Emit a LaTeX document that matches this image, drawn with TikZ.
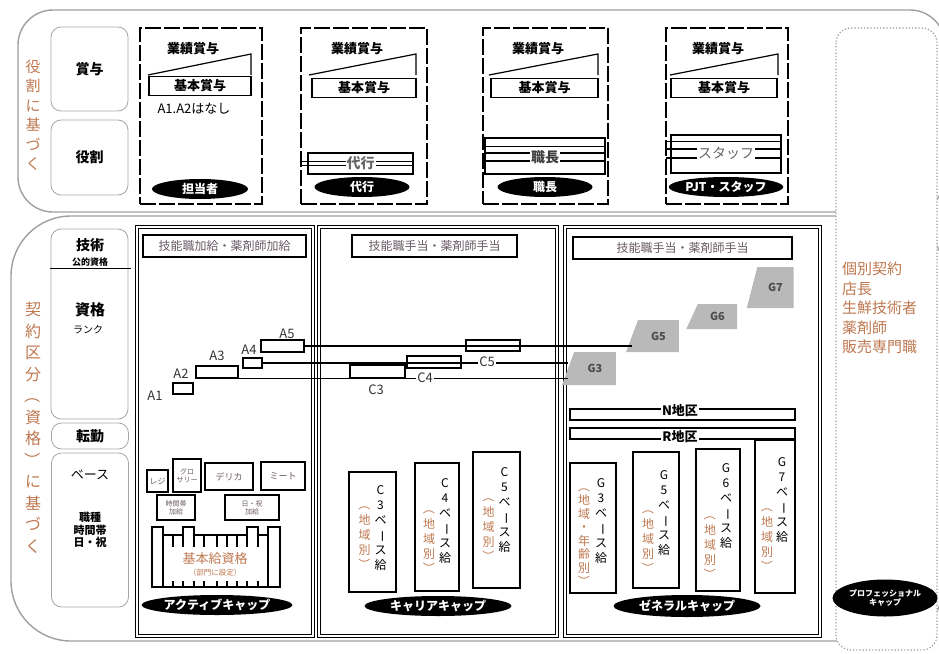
\documentclass[tikz,border=0pt]{standalone}
\usepackage{fontspec}
\setmainfont{Noto Sans CJK JP}
\usetikzlibrary{shapes.geometric, calc}

\definecolor{jcol}{RGB}{190,120,80}
\definecolor{titlecol}{RGB}{105,90,100}
\definecolor{gfill}{RGB}{185,185,185}

% vertical writing marks
\newcommand{\vlparen}{\rotatebox[origin=c]{-90}{（}}
\newcommand{\vrparen}{\rotatebox[origin=c]{-90}{）}}
\newcommand{\vbar}{\rotatebox[origin=c]{-90}{ー}}

\begin{document}
\begin{tikzpicture}[
    x=1pt, y=-1pt,
    every node/.style={font=\fontsize{12}{14}\selectfont, inner sep=1pt},
    outerline/.style={draw=gray!75, line width=1.4pt},
    dotbox/.style={draw=gray!80, line width=1.2pt, dotted, fill=white, rounded corners=15pt},
    headbox/.style={rectangle, draw=gray!70, thick, rounded corners=10pt, minimum width=77, align=center, font=\bfseries\fontsize{14}{16}\selectfont},
    dashbox/.style={rectangle, draw, line width=1.6pt, dash pattern=on 16pt off 3pt, minimum height=176},
    basebox/.style={rectangle, draw, line width=1.4pt, minimum height=19, font=\bfseries\fontsize{13}{15}\selectfont},
    perflabel/.style={font=\bfseries\fontsize{13}{15}\selectfont},
    rolebox/.style={rectangle, draw, line width=1.4pt},
    rolelabel/.style={fill=white, text=black!60, font=\bfseries\fontsize{14}{16}\selectfont},
    capoval/.style={ellipse, fill=black, text=white, minimum height=20, inner sep=0pt, font=\bfseries\fontsize{12}{14}\selectfont},
    colbox/.style={rectangle, draw, double, double distance=1.5pt, line width=0.9pt, minimum height=409},
    titlebox/.style={rectangle, draw, line width=1.4pt, minimum height=22, text=titlecol, font=\fontsize{12}{14}\selectfont},
    smallbox/.style={rectangle, draw, line width=1.4pt, align=center, text=titlecol, font=\fontsize{8}{9}\selectfont},
    stepbox/.style={rectangle, draw, line width=1.2pt},
    steplabel/.style={font=\fontsize{13}{15}\selectfont, text=black!80},
    stepline/.style={line width=1.2pt},
    gradebox/.style={trapezium, trapezium left angle=65, trapezium right angle=90, trapezium stretches=true, fill=gfill, font=\bfseries\fontsize{11}{13}\selectfont, text=black!70},
    paybox/.style={rectangle, draw, line width=1.4pt},
    vcol/.style={anchor=north, align=center, font=\fontsize{12}{15}\selectfont},
    sidetext/.style={align=center, text=jcol},
    areabar/.style={rectangle, draw, line width=1.4pt, minimum width=225, minimum height=11},
    arealabel/.style={fill=white, font=\bfseries\fontsize{13}{15}\selectfont}
]
\useasboundingbox (0,0) rectangle (939,653);

% ============ ROLE BASED (TOP) ============
\draw[outerline, rounded corners=35pt] (18,10) rectangle (945,212);
\node[sidetext, font=\fontsize{15}{19.5}\selectfont] (rolebased) at (33,115) {役\\割\\に\\基\\づ\\く};

% row heads
\node[headbox, minimum height=84] (bonushead) at (89.5,69) {賞与};
\node[headbox, minimum height=75] (rolehead) at (89.5,157.5) {役割};

% role columns
\node[dashbox, minimum width=122] (tantoucol) at (201,116) {};
\node[dashbox, minimum width=126] (daikoucol) at (364,116) {};
\node[dashbox, minimum width=125] (shokuchocol) at (545.5,116) {};
\node[dashbox, minimum width=122] (staffcol) at (727,116) {};

% bonus wedges
\draw[stepline] (148,75) -- (251,54) -- (251,75);
\draw[stepline] (309,75) -- (416,54) -- (416,75);
\draw[stepline] (489,75) -- (598,54) -- (598,75);
\draw[stepline] (670,75) -- (778,54) -- (778,75);
\node[perflabel] (perf1) at (193,49) {業績賞与};
\node[perflabel] (perf2) at (357,49) {業績賞与};
\node[perflabel] (perf3) at (538,49) {業績賞与};
\node[perflabel] (perf4) at (718,49) {業績賞与};
\node[basebox, minimum width=102] (base1) at (200,86) {基本賞与};
\node[basebox, minimum width=104] (base2) at (364,88) {基本賞与};
\node[basebox, minimum width=107] (base3) at (544.5,88) {基本賞与};
\node[basebox, minimum width=106] (base4) at (724,88) {基本賞与};
\node[font=\fontsize{13}{15}\selectfont] (nonote) at (194,109) {A1.A2はなし};

% role boxes
\node[rolebox, minimum width=105, minimum height=21] (daikoubox) at (360.5,163.5) {};
\draw[stepline] ($(daikoubox.west)+(-5,-2)$) -- ($(daikoubox.east)+(0,-2)$);
\draw[stepline] ($(daikoubox.west)+(-5,2)$) -- ($(daikoubox.east)+(0,2)$);
\node[rolelabel] (daikoulbl) at (daikoubox) {代行};

\node[rolebox, minimum width=120, minimum height=36] (shokuchobox) at (545,156) {};
\draw[stepline] ($(shokuchobox.north west)+(0,9)$) -- ($(shokuchobox.north east)+(0,9)$);
\draw[stepline] ($(shokuchobox.west)+(0,-3)$) -- ($(shokuchobox.east)+(0,-3)$);
\draw[stepline] ($(shokuchobox.west)+(0,5)$) -- ($(shokuchobox.east)+(0,5)$);
\node[rolelabel, text=black!75] (shokucholbl) at (545,157) {職長};

\node[rolebox, minimum width=110, minimum height=38] (staffbox) at (726,154) {};
\draw[stepline] ($(staffbox.north west)+(-4,7)$) -- ($(staffbox.north east)+(0,7)$);
\draw[stepline] ($(staffbox.west)+(-4,-5)$) -- ($(staffbox.east)+(0,-5)$);
\draw[stepline] ($(staffbox.west)+(-4,4)$) -- ($(staffbox.east)+(0,4)$);
\node[rolelabel, font=\fontsize{14}{16}\selectfont] (stafflbl) at (726,153) {スタッフ};

% role ovals
\node[capoval, minimum width=96] (tantou) at (200,189) {担当者};
\node[capoval, minimum width=95] (daikou) at (362,187) {代行};
\node[capoval, minimum width=95] (shokucho) at (545,187) {職長};
\node[capoval, minimum width=113] (staff) at (726,187) {PJT・スタッフ};

% ============ CONTRACT BASED (BOTTOM) ============
\draw[outerline, rounded corners=60pt] (11,216) rectangle (945,641);
\node[sidetext, font=\fontsize{16}{21.5}\selectfont] (contractbased) at (33,428) {契\\約\\区\\分\\\vlparen\\資\\格\\\vrparen\\に\\基\\づ\\く};

% row heads
\node[headbox, minimum height=190] (gradehead) at (89.5,324) {};
\draw[line width=1.4pt] ($(gradehead.north west)+(-1,40)$) -- ($(gradehead.north east)+(3,40)$);
\node[font=\bfseries\fontsize{14}{16}\selectfont] (gijutsu) at (90,245) {技術};
\node[font=\bfseries\fontsize{9}{10}\selectfont] (koteki) at (90,262) {公的資格};
\node[font=\bfseries\fontsize{15}{17}\selectfont] (shikaku) at (90,310) {資格};
\node[font=\fontsize{10}{11}\selectfont] (rank) at (88,330) {ランク};
\node[headbox, minimum height=26] (tenkinhead) at (90,436) {転勤};
\node[headbox, minimum height=154] (basehead) at (90,530) {};
\node[font=\fontsize{13}{15}\selectfont] (baselbl) at (90,475) {ベース};
\node[align=center, font=\bfseries\fontsize{11}{12.5}\selectfont] (allowlbl) at (90,530) {職種\\時間帯\\日・祝};

% cap columns
\node[colbox, minimum width=176] (activecol) at (225,431.5) {};
\node[colbox, minimum width=238] (careercol) at (438,431.5) {};
\node[colbox, minimum width=255] (generalcol) at (692.5,431.5) {};
\node[titlebox, minimum width=163] (activetitle) at (224.5,246) {技能職加給・薬剤師加給};
\node[titlebox, minimum width=165] (careertitle) at (434.5,246) {技能職手当・薬剤師手当};
\node[titlebox, minimum width=219] (generaltitle) at (682.5,248) {技能職手当・薬剤師手当};

% grade G boxes
\node[gradebox, minimum width=54, minimum height=33] (g3) at (595,368.5) {G3};
\node[gradebox, minimum width=53, minimum height=32] (g5) at (658.5,336) {G5};
\node[gradebox, minimum width=51, minimum height=25] (g6) at (717.5,316.5) {G6};
\node[gradebox, minimum width=47, minimum height=41] (g7) at (775.5,287.5) {G7};

% active steps
\node[stepbox, minimum width=20, minimum height=11] (a2box) at (183,388.5) {};
\node[stepbox, minimum width=42, minimum height=12] (a3box) at (217,372) {};
\node[stepbox, minimum width=19, minimum height=10] (a4box) at (252.5,363) {};
\node[stepbox, minimum width=43, minimum height=12] (a5box) at (282.5,346) {};
\node[steplabel] (a1) at (155,396) {A1};
\node[steplabel] (a2) at (181,374) {A2};
\node[steplabel] (a3) at (217,356) {A3};
\node[steplabel] (a4) at (249,350) {A4};
\node[steplabel] (a5) at (287,334) {A5};

% career steps
\node[stepbox, minimum width=55, minimum height=13] (c3box) at (377.5,371.5) {};
\node[stepbox, minimum width=54, minimum height=12] (c4box) at (434,362) {};
\node[stepbox, minimum width=54, minimum height=11] (c5box) at (493,345.5) {};

% grade lines
\draw[stepline] (a5box.east) -- (a5box.east -| g5.west);
\draw[stepline] (a4box.east) -- (a4box.east -| g3.west);
\draw[stepline] (a3box.south east) -- (a3box.south east -| g3.west);
\node[steplabel, fill=white] (c3) at (376,390) {C3};
\node[steplabel, fill=white] (c4) at (425,378) {C4};
\node[steplabel, fill=white] (c5) at (487,362) {C5};

% active allowances
\node[smallbox, minimum width=21, minimum height=22] (reji) at (157.5,481) {レジ};
\node[smallbox, minimum width=28, minimum height=33, font=\fontsize{7}{8}\selectfont] (grocery) at (187,475.5) {グロ\\サリー};
\node[smallbox, minimum width=48, minimum height=27, font=\fontsize{9}{10}\selectfont] (delica) at (229,476.5) {デリカ};
\node[smallbox, minimum width=44, minimum height=28, font=\fontsize{9}{10}\selectfont] (meat) at (283,476) {ミート};
\node[smallbox, minimum width=38, minimum height=25, font=\fontsize{7}{8}\selectfont] (timeallow) at (176,507.5) {時間帯\\加給};
\node[smallbox, minimum width=54, minimum height=25, font=\fontsize{7}{8}\selectfont] (holallow) at (252,507.5) {日・祝\\加給};

% basic pay comb
\draw[line width=1.4pt] (152,547) -- (152,527) -- (163,527) -- (163,535) -- (183,535) -- (183,527) -- (194,527) -- (194,535)
    -- (247,535) -- (247,527) -- (258,527) -- (258,535) -- (268,535) -- (268,527) -- (280,527) -- (280,547);
\draw[line width=1.4pt] (152,547) -- (152,587) -- (280,587) -- (280,547);
\draw[line width=1.4pt] (163,527) -- (163,587) (268,527) -- (268,587);
\draw[line width=1.2pt] (173,535) -- (173,547) (183,527) -- (183,547) (194,527) -- (194,547) (204,535) -- (204,547)
    (217,535) -- (217,547) (227,535) -- (227,547) (237,535) -- (237,547) (247,527) -- (247,547) (258,527) -- (258,547);
\draw[line width=1.2pt] (173,581) -- (173,587) (183,581) -- (183,587) (194,581) -- (194,587) (204,581) -- (204,587)
    (217,581) -- (217,587) (227,581) -- (227,587) (237,581) -- (237,587) (247,581) -- (247,587) (258,581) -- (258,587);
\node[text=jcol, font=\fontsize{13}{15}\selectfont] (kihonkyu) at (215,559) {基本給資格};
\node[text=jcol, font=\fontsize{7.5}{9}\selectfont] (kihonnote) at (215,573) {（部門に設定）};

% career base pay
\node[paybox, minimum width=47, minimum height=120] (c3pay) at (372.5,532) {};
\node[vcol] (c3paytxt) at ($(c3pay.north)+(8,13)$) {C\\3\\ベ\\\vbar\\ス\\給};
\node[vcol, text=jcol] (c3payarea) at ($(c3pay.north)+(-8,26)$) {\vlparen\\地\\域\\別\\\vrparen};
\node[paybox, minimum width=44, minimum height=128] (c4pay) at (437,527) {};
\node[vcol] (c4paytxt) at ($(c4pay.north)+(8,15)$) {C\\4\\ベ\\\vbar\\ス\\給};
\node[vcol, text=jcol] (c4payarea) at ($(c4pay.north)+(-8,39)$) {\vlparen\\地\\域\\別\\\vrparen};
\node[paybox, minimum width=47, minimum height=136] (c5pay) at (496.5,520) {};
\node[vcol] (c5paytxt) at ($(c5pay.north)+(8,15)$) {C\\5\\ベ\\\vbar\\ス\\給};
\node[vcol, text=jcol] (c5payarea) at ($(c5pay.north)+(-8,38)$) {\vlparen\\地\\域\\別\\\vrparen};

% area bars
\node[areabar] (nbar) at (682.5,414.5) {};
\node[arealabel] (nlbl) at (680,411) {N地区};
\node[areabar] (rbar) at (682.5,433.5) {};
\node[arealabel] (rlbl) at (680,437) {R地区};

% general base pay
\node[paybox, minimum width=46, minimum height=130] (g3pay) at (593,528) {};
\node[vcol] (g3paytxt) at ($(g3pay.north)+(8,15)$) {G\\3\\ベ\\\vbar\\ス\\給};
\node[vcol, text=jcol, font=\fontsize{12}{13.5}\selectfont] (g3payarea) at ($(g3pay.north)+(-9,17)$) {\vlparen\\地\\域\\・\\年\\齢\\別\\\vrparen};
\node[paybox, minimum width=46, minimum height=136] (g5pay) at (656,520) {};
\node[vcol] (g5paytxt) at ($(g5pay.north)+(8,18)$) {G\\5\\ベ\\\vbar\\ス\\給};
\node[vcol, text=jcol] (g5payarea) at ($(g5pay.north)+(-8,50)$) {\vlparen\\地\\域\\別\\\vrparen};
\node[paybox, minimum width=44, minimum height=142] (g6pay) at (718,520) {};
\node[vcol] (g6paytxt) at ($(g6pay.north)+(8,14)$) {G\\6\\ベ\\\vbar\\ス\\給};
\node[vcol, text=jcol] (g6payarea) at ($(g6pay.north)+(-8,59)$) {\vlparen\\地\\域\\別\\\vrparen};
\node[paybox, minimum width=40, minimum height=153] (g7pay) at (775,516.5) {};
\node[vcol] (g7paytxt) at ($(g7pay.north)+(7,17)$) {G\\7\\ベ\\\vbar\\ス\\給};
\node[vcol, text=jcol] (g7payarea) at ($(g7pay.north)+(-8,60)$) {\vlparen\\地\\域\\別\\\vrparen};

% cap ovals
\node[capoval, minimum width=147] (activecap) at (217,605) {アクティブキャップ};
\node[capoval, minimum width=147] (careercap) at (438,606) {キャリアキャップ};
\node[capoval, minimum width=147, minimum height=22] (generalcap) at (687,606) {ゼネラルキャップ};

% ============ INDIVIDUAL CONTRACT (RIGHT) ============
\draw[dotbox] (836,28) rectangle (937,650);
\node[anchor=north west, align=left, text=jcol, font=\fontsize{15}{19.5}\selectfont] (kobetsu) at (841,261) {個別契約\\店長\\生鮮技術者\\薬剤師\\販売専門職};
\node[capoval, minimum width=105, minimum height=37, align=center, font=\bfseries\fontsize{8}{9.5}\selectfont] (profcap) at (885,598) {プロフェッショナル\\キャップ};

\end{tikzpicture}
\end{document}
